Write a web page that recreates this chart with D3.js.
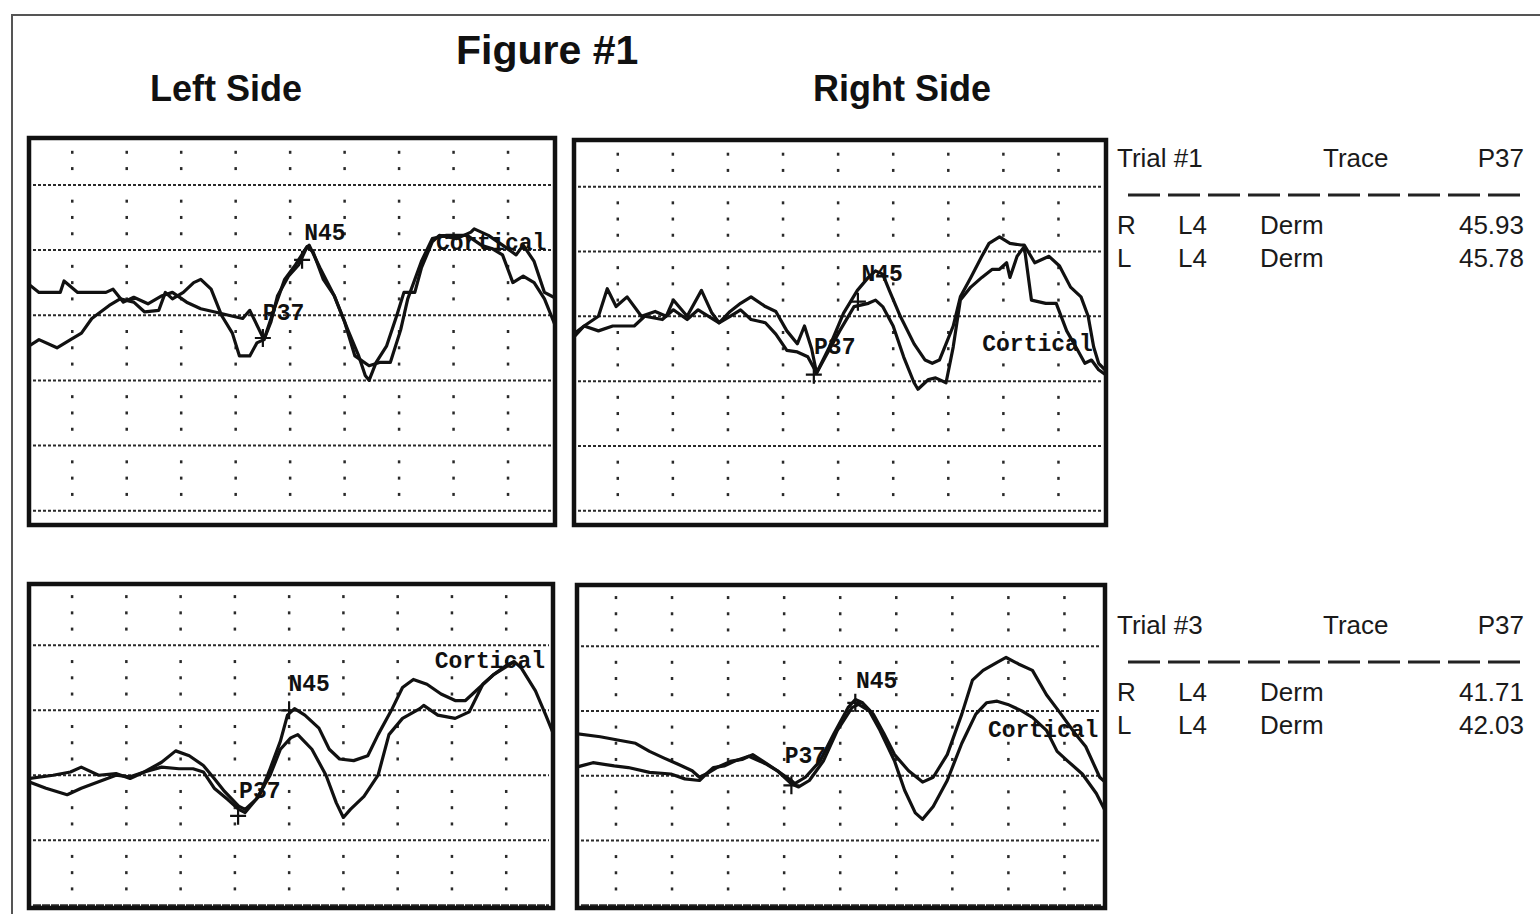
<!DOCTYPE html>
<html>
<head>
<meta charset="utf-8">
<script src="https://cdn.jsdelivr.net/npm/d3@7"></script>
<style>
  body { margin: 0; background: #fff; }
  svg { display: block; }
</style>
</head>
<body>
<div id="chart"></div>
<script>

// latency grid (ms) shown as dotted columns
var gridMs = [10, 20, 30, 40, 50, 60, 70, 80, 90];

// traces: [latency ms, amplitude in grid units]
var leftTrial1A = [[2.0,14.9],[3.9,14.4],[7.8,14.4],[8.5,15.1],[11.0,14.4],[13.6,14.4],[16.2,14.4],[17.5,14.6],[19.4,13.8],[21.3,14.1],[23.9,13.7],[26.5,14.2],[28.4,14.4],[31.0,13.8],[33.6,13.4],[36.2,13.2],[38.7,13.0],[41.3,12.8],[42.6,13.3],[45.2,11.5],[47.1,13.4],[49.0,15.2],[51.0,16.1],[52.9,17.1],[53.5,17.3],[55.5,15.9],[58.1,14.2],[60.6,12.1],[62.6,10.5],[63.8,9.3],[64.5,9.0],[65.8,10.1],[67.7,11.1],[69.6,13.0],[70.9,14.4],[72.9,14.4],[74.1,15.9],[76.1,17.5],[77.4,17.9],[80.6,17.7],[83.2,18.1],[83.8,18.3],[86.4,17.9],[89.0,17.3],[91.5,16.7],[92.8,17.3],[94.8,16.3],[96.7,14.4],[99.0,14.0]];
var leftTrial1B = [[2.0,11.1],[3.9,11.5],[7.2,11.0],[9.7,11.5],[11.7,11.9],[13.6,12.8],[16.8,13.6],[18.8,14.0],[21.3,13.8],[23.3,13.2],[25.9,13.3],[27.1,14.4],[28.4,14.0],[30.4,14.4],[32.3,15.0],[33.6,15.2],[35.5,14.6],[37.4,13.0],[39.4,11.9],[40.7,10.5],[42.6,10.5],[43.9,11.3],[45.2,11.5],[46.5,12.6],[47.7,14.2],[49.7,15.4],[51.6,16.1],[53.1,17.2],[54.2,16.9],[56.1,15.2],[58.1,14.2],[60.0,12.6],[61.9,10.5],[64.5,9.9],[66.4,10.1],[68.4,10.1],[70.3,12.1],[71.6,14.0],[74.1,16.3],[76.1,17.7],[78.7,17.9],[82.5,17.9],[85.1,17.3],[87.0,17.1],[89.0,16.7],[90.9,15.0],[92.8,15.4],[94.8,15.0],[96.7,14.0],[99.0,12.1]];

var rightTrial1A = [[2.0,11.9],[3.9,12.4],[6.5,13.0],[8.1,14.7],[9.7,13.6],[11.7,14.2],[14.3,13.0],[16.8,13.3],[18.8,13.0],[20.1,14.0],[22.6,13.0],[25.2,14.6],[27.1,13.2],[28.4,12.6],[30.4,13.3],[32.3,13.8],[34.2,14.2],[36.8,13.6],[38.7,13.3],[40.7,12.1],[42.6,11.3],[43.9,12.4],[45.2,11.0],[46.1,9.5],[48.4,11.1],[51.0,13.2],[53.5,14.6],[55.5,15.4],[56.8,15.8],[58.1,15.6],[59.3,14.6],[61.3,13.0],[63.8,11.3],[65.8,10.3],[67.1,10.1],[68.4,10.3],[69.6,11.3],[70.9,12.4],[72.2,14.2],[74.1,15.4],[76.1,16.7],[77.4,17.5],[79.3,17.9],[81.2,17.5],[83.2,17.4],[83.8,17.4],[85.7,16.3],[88.3,16.7],[90.2,16.1],[92.2,14.8],[94.1,14.2],[95.4,13.0],[96.4,11.1],[97.3,10.1],[99.0,9.5]];
var rightTrial1B = [[2.0,11.7],[3.9,12.4],[6.5,12.1],[9.1,12.4],[13.0,12.4],[14.9,13.0],[18.1,12.8],[20.1,13.4],[22.6,12.8],[24.6,13.4],[28.4,12.6],[30.4,13.0],[32.3,13.4],[34.2,12.8],[36.8,12.6],[38.7,11.9],[40.7,10.9],[42.6,10.8],[44.5,10.5],[46.1,9.5],[47.7,10.5],[50.3,12.1],[52.9,13.6],[55.5,13.8],[56.8,14.0],[58.1,13.6],[60.0,12.4],[61.9,10.5],[63.8,8.9],[64.5,8.5],[66.4,9.1],[67.7,9.2],[69.6,8.9],[70.9,11.1],[72.2,14.0],[74.1,14.8],[76.1,15.4],[78.0,15.9],[79.3,15.9],[80.6,16.3],[81.2,15.4],[82.5,16.7],[83.8,17.3],[85.1,14.0],[87.7,13.8],[89.6,13.8],[91.5,12.1],[93.5,10.9],[94.8,10.1],[96.0,10.3],[97.3,9.7],[99.0,9.3]];

var leftTrial3A = [[2.0,7.8],[6.5,8.0],[9.7,8.2],[11.7,8.5],[14.9,8.0],[18.1,8.1],[20.7,7.8],[23.3,8.2],[26.5,8.8],[29.1,9.5],[31.6,9.2],[34.2,8.6],[36.2,7.8],[38.1,7.0],[40.7,6.1],[41.9,5.9],[44.5,6.7],[46.5,8.4],[48.4,10.1],[49.7,11.7],[51.0,12.1],[52.9,11.7],[55.5,10.9],[57.4,9.6],[59.3,9.0],[61.9,8.9],[64.5,9.2],[66.4,10.5],[69.0,12.1],[70.9,13.4],[72.9,13.9],[75.4,13.6],[78.0,13.0],[80.6,12.6],[82.5,12.6],[85.1,13.4],[87.7,14.2],[90.2,14.8],[91.5,15.0],[92.8,14.6],[95.4,13.2],[97.3,11.7],[99.0,10.3]];
var leftTrial3B = [[2.0,7.6],[5.2,7.2],[9.1,6.8],[11.7,7.2],[14.9,7.6],[18.1,8.0],[20.7,7.9],[23.3,8.2],[26.5,8.5],[29.7,8.4],[32.3,8.4],[34.2,8.2],[36.2,7.2],[38.7,6.5],[40.7,5.9],[41.9,5.7],[43.9,6.5],[46.5,8.0],[48.4,9.6],[50.3,10.3],[51.6,10.5],[54.2,9.6],[56.8,8.0],[58.7,6.3],[60.0,5.4],[61.3,5.9],[63.8,6.7],[66.4,8.0],[68.4,10.5],[70.9,11.5],[74.1,12.1],[74.8,12.3],[77.4,11.7],[80.6,11.5],[83.2,11.9],[85.7,13.6],[87.7,14.2],[89.6,14.6],[91.5,15.0]];

var rightTrial3A = [[2.7,10.6],[7.2,10.4],[10.3,10.2],[13.5,10.0],[16.0,9.5],[18.5,9.1],[21.1,8.7],[23.6,8.3],[24.9,7.9],[26.1,8.1],[27.4,8.5],[29.3,8.6],[31.2,8.9],[33.7,9.2],[35.0,9.0],[36.9,8.7],[38.8,8.3],[41.3,7.7],[41.9,7.5],[43.8,7.9],[46.4,8.9],[48.9,10.6],[51.4,12.2],[52.7,12.7],[54.0,12.5],[55.9,11.8],[57.8,10.6],[59.7,9.3],[62.2,8.3],[64.7,7.6],[66.6,7.9],[69.1,9.3],[71.7,11.8],[73.6,13.9],[75.5,14.5],[78.0,15.0],[79.6,15.3],[81.8,14.9],[84.3,14.5],[86.8,13.0],[89.4,11.8],[91.9,10.6],[93.8,9.8],[96.3,7.9],[97.6,7.5]];
var rightTrial3B = [[2.7,8.5],[5.9,8.8],[9.7,8.6],[12.2,8.5],[16.0,8.2],[19.8,8.1],[22.3,7.8],[24.9,7.7],[26.1,8.1],[28.0,8.5],[30.6,8.9],[32.5,9.0],[34.4,9.3],[36.2,8.9],[38.8,8.3],[41.3,7.5],[42.6,7.3],[44.5,7.7],[47.0,8.9],[49.5,10.8],[52.1,12.2],[53.3,12.4],[55.2,12.0],[57.1,10.8],[59.7,8.9],[61.5,7.1],[63.4,5.7],[64.7,5.3],[66.6,6.1],[69.1,7.7],[71.7,10.0],[74.2,11.8],[76.1,12.5],[78.0,12.6],[79.9,12.4],[82.4,12.0],[84.3,11.6],[86.8,10.8],[88.7,9.5],[90.6,8.9],[93.2,8.1],[95.7,6.9],[97.6,5.6]];

// peak markers (+) and their printed labels
var leftTrial1Peaks = [[45.0,11.6],[52.2,16.4]];
var rightTrial1Peaks = [[45.6,9.4],[53.6,13.9]];
var leftTrial3Peaks = [[40.6,5.5],[50.0,12.0]];
var rightTrial3Peaks = [[41.3,7.4],[52.7,12.5]];

var leftTrial1Labels = [["N45",56.4,18.1],["P37",48.8,13.2],["Cortical",86.9,17.5]];
var rightTrial1Labels = [["N45",58.0,15.7],["P37",49.4,11.2],["Cortical",86.2,11.4]];
var leftTrial3Labels = [["N45",53.7,13.7],["P37",44.6,7.1],["Cortical",87.0,15.1]];
var rightTrial3Labels = [["N45",56.5,13.9],["P37",43.8,9.3],["Cortical",86.2,10.9]];

// latency tables
var tableHeader = ["Trace", "P37"];
var trial1Title = "Trial #1";
var trial3Title = "Trial #3";
var trial1Rows = [["R","L4","Derm","45.93"],["L","L4","Derm","45.78"]];
var trial3Rows = [["R","L4","Derm","41.71"],["L","L4","Derm","42.03"]];

var width = 1540, height = 914;

var svg = d3.select("#chart")
    .append("svg")
    .attr("width", width)
    .attr("height", height);

svg.append("rect").attr("width", width).attr("height", height).attr("fill", "#fff");

// page frame from the scan
svg.append("path")
    .attr("d", "M12,914V15H1540")
    .attr("fill", "none")
    .attr("stroke", "#555")
    .attr("stroke-width", 2);

// titles
var titleFont = "'Liberation Sans', Arial, sans-serif";
svg.append("text").attr("x", 456).attr("y", 64).text("Figure #1")
    .attr("font-family", titleFont).attr("font-weight", "bold").attr("font-size", 41).attr("fill", "#111");
svg.append("text").attr("x", 150).attr("y", 101).text("Left Side")
    .attr("font-family", titleFont).attr("font-weight", "bold").attr("font-size", 36).attr("fill", "#111");
svg.append("text").attr("x", 813).attr("y", 101).text("Right Side")
    .attr("font-family", titleFont).attr("font-weight", "bold").attr("font-size", 36).attr("fill", "#111");

var topAmp = [0, 24], topDashed = [1, 5, 9, 13, 17, 21];
var botAmp = [-0.3, 19.9], botDashed = [0, 4, 8, 12, 16];

var panels = [
    {x: 27,  y: 136, w: 530, h: 391, ms: [1.7, 99],   amp: topAmp, dashed: topDashed, traces: [leftTrial1A, leftTrial1B],   peaks: leftTrial1Peaks,  labels: leftTrial1Labels},
    {x: 572, y: 138, w: 536, h: 389, ms: [1.7, 99],   amp: topAmp, dashed: topDashed, traces: [rightTrial1A, rightTrial1B], peaks: rightTrial1Peaks, labels: rightTrial1Labels},
    {x: 27,  y: 582, w: 528, h: 328, ms: [1.7, 99],   amp: botAmp, dashed: botDashed, traces: [leftTrial3A, leftTrial3B],   peaks: leftTrial3Peaks,  labels: leftTrial3Labels},
    {x: 575, y: 583, w: 532, h: 327, ms: [2.7, 97.6], amp: botAmp, dashed: botDashed, traces: [rightTrial3A, rightTrial3B], peaks: rightTrial3Peaks, labels: rightTrial3Labels}
];

panels.forEach(function(p, i) {
    var x = d3.scaleLinear().domain(p.ms).range([p.x, p.x + p.w]);
    var y = d3.scaleLinear().domain(p.amp).range([p.y + p.h, p.y]);

    var g = svg.append("g");

    g.append("clipPath").attr("id", "clip" + i)
      .append("rect")
        .attr("x", p.x + 3).attr("y", p.y + 3)
        .attr("width", p.w - 6).attr("height", p.h - 6);

    // dotted columns: one dot per amplitude unit
    var units = d3.range(Math.ceil(p.amp[0]), Math.floor(p.amp[1]) + 1)
        .filter(function(v) { return p.dashed.indexOf(v) < 0 && y(v) > p.y + 8 && y(v) < p.y + p.h - 6; });
    var dots = [];
    gridMs.forEach(function(t) { units.forEach(function(v) { dots.push([t, v]); }); });
    g.selectAll(".dot")
        .data(dots)
        .enter()
      .append("rect")
        .attr("class", "dot")
        .attr("x", function(d) { return x(d[0]) - 1.2; })
        .attr("y", function(d) { return y(d[1]) - 1.5; })
        .attr("width", 2.5).attr("height", 3)
        .attr("fill", "#2a2a2a");

    // dashed amplitude lines
    g.selectAll(".hline")
        .data(p.dashed)
        .enter()
      .append("line")
        .attr("x1", p.x + 6).attr("x2", p.x + p.w - 6)
        .attr("y1", function(d) { return y(d); })
        .attr("y2", function(d) { return y(d); })
        .attr("stroke", "#2a2a2a")
        .attr("stroke-width", 2)
        .attr("stroke-dasharray", function(d) { return d === 0 ? "8,1" : "3,2"; });

    // peak labels (under the traces, as in the print)
    g.selectAll(".lbl")
        .data(p.labels)
        .enter()
      .append("text")
        .attr("x", function(d) { return x(d[1]); })
        .attr("y", function(d) { return y(d[2]); })
        .attr("text-anchor", "middle")
        .attr("dy", "0.36em")
        .attr("font-family", "'Liberation Mono', 'DejaVu Sans Mono', monospace")
        .attr("font-weight", "bold")
        .attr("font-size", 23)
        .attr("fill", "#111")
        .text(function(d) { return d[0]; });

    var line = d3.line()
        .x(function(d) { return x(d[0]); })
        .y(function(d) { return y(d[1]); });

    g.append("g").attr("clip-path", "url(#clip" + i + ")")
      .selectAll("path")
        .data(p.traces)
        .enter()
      .append("path")
        .attr("d", line)
        .attr("fill", "none")
        .attr("stroke", "#111")
        .attr("stroke-width", 3.2)
        .attr("stroke-linejoin", "round");

    g.selectAll(".peak")
        .data(p.peaks)
        .enter()
      .append("path")
        .attr("transform", function(d) { return "translate(" + x(d[0]) + "," + y(d[1]) + ")"; })
        .attr("d", "M-8,0H8M0,-9V9")
        .attr("stroke", "#111")
        .attr("stroke-width", 2.2);

    g.append("rect")
        .attr("x", p.x + 2).attr("y", p.y + 2)
        .attr("width", p.w - 4).attr("height", p.h - 4)
        .attr("fill", "none")
        .attr("stroke", "#111")
        .attr("stroke-width", 4.5);
});

// latency tables to the right of the traces
function drawTable(title, rows, top) {
    var t = svg.append("g")
        .attr("font-family", titleFont)
        .attr("font-size", 26)
        .attr("fill", "#1a1a1a");

    t.append("text").attr("x", 1117).attr("y", top).text(title);
    t.append("text").attr("x", 1323).attr("y", top).text(tableHeader[0]);
    t.append("text").attr("x", 1524).attr("y", top).attr("text-anchor", "end").text(tableHeader[1]);

    t.append("line")
        .attr("x1", 1128).attr("x2", 1526)
        .attr("y1", top + 28).attr("y2", top + 28)
        .attr("stroke", "#222")
        .attr("stroke-width", 3)
        .attr("stroke-dasharray", "32,8");

    var row = t.selectAll(".row")
        .data(rows)
        .enter()
      .append("g")
        .attr("transform", function(d, i) { return "translate(0," + (top + 67 + i * 33) + ")"; });

    row.append("text").attr("x", 1117).text(function(d) { return d[0]; });
    row.append("text").attr("x", 1178).text(function(d) { return d[1]; });
    row.append("text").attr("x", 1260).text(function(d) { return d[2]; });
    row.append("text").attr("x", 1524).attr("text-anchor", "end").text(function(d) { return d[3]; });
}

drawTable(trial1Title, trial1Rows, 167);
drawTable(trial3Title, trial3Rows, 634);

</script>
</body>
</html>
